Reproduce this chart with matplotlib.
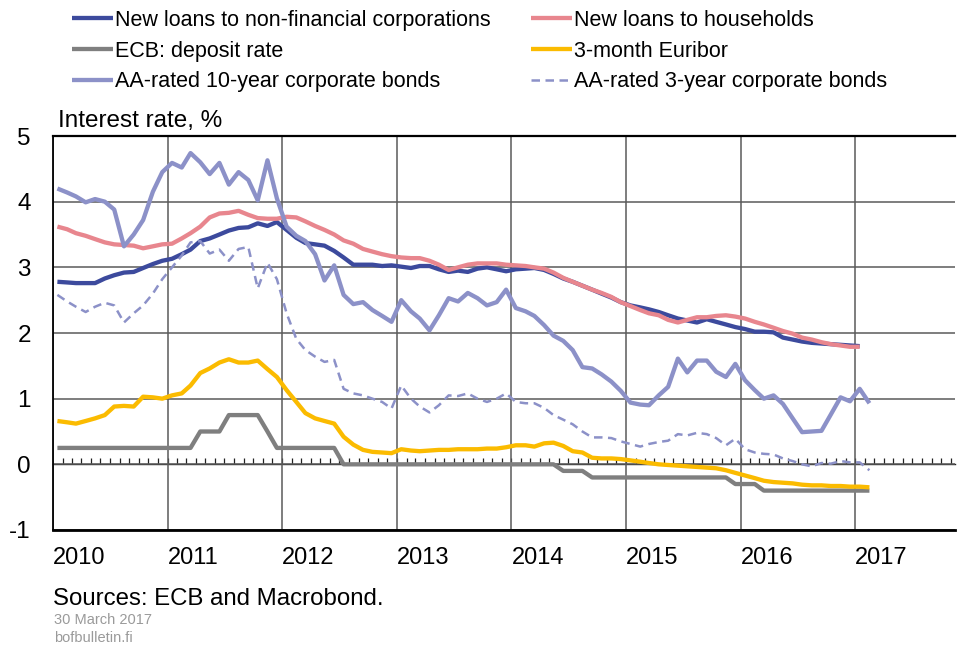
import numpy as np
import pandas as pd
import matplotlib
matplotlib.use("Agg")
import matplotlib.pyplot as plt

plt.rcParams['font.family'] = ['Liberation Sans', 'DejaVu Sans']

# ---------------- data (monthly, starting Jan 2010) ----------------
nfc_loans = [2.78, 2.77, 2.76, 2.76, 2.76, 2.83, 2.88, 2.92, 2.93, 2.99, 3.05, 3.10,
             3.13, 3.20, 3.27, 3.40, 3.44, 3.50, 3.56, 3.60, 3.61, 3.67, 3.63, 3.69,
             3.57, 3.45, 3.37, 3.35, 3.33, 3.25, 3.15, 3.04, 3.04, 3.04, 3.02, 3.03,
             3.01, 2.99, 3.02, 3.02, 2.97, 2.93, 2.95, 2.93, 2.98, 3.00, 2.97, 2.94,
             2.97, 2.98, 2.99, 2.96, 2.90, 2.83, 2.78, 2.72, 2.66, 2.60, 2.54, 2.47,
             2.42, 2.39, 2.36, 2.32, 2.27, 2.22, 2.19, 2.16, 2.21, 2.17, 2.13, 2.09,
             2.06, 2.02, 2.02, 2.01, 1.93, 1.90, 1.87, 1.85, 1.84, 1.83, 1.82, 1.81,
             1.80]
household_loans = [3.62, 3.58, 3.52, 3.48, 3.43, 3.38, 3.35, 3.34, 3.33, 3.29, 3.32, 3.35,
                   3.36, 3.44, 3.52, 3.62, 3.76, 3.82, 3.83, 3.86, 3.80, 3.75, 3.74, 3.74,
                   3.77, 3.76, 3.70, 3.63, 3.57, 3.50, 3.41, 3.36, 3.28, 3.24, 3.20, 3.17,
                   3.15, 3.14, 3.14, 3.10, 3.04, 2.96, 3.00, 3.04, 3.06, 3.06, 3.06, 3.04,
                   3.03, 3.02, 3.00, 2.98, 2.92, 2.84, 2.78, 2.72, 2.66, 2.61, 2.55, 2.47,
                   2.41, 2.35, 2.30, 2.27, 2.20, 2.16, 2.20, 2.24, 2.24, 2.26, 2.27, 2.25,
                   2.22, 2.17, 2.13, 2.08, 2.03, 1.99, 1.93, 1.90, 1.86, 1.83, 1.81, 1.79,
                   1.79]
ecb_deposit = [0.25] * 15 + [0.50] * 3 + [0.75] * 4 + [0.50] + [0.25] * 7 + \
              [0.00] * 23 + [-0.10] * 3 + [-0.20] * 15 + [-0.30] * 3 + [-0.40] * 12
euribor_3m = [0.66, 0.64, 0.62, 0.66, 0.70, 0.75, 0.88, 0.89, 0.88, 1.03, 1.02, 1.00,
              1.05, 1.08, 1.20, 1.39, 1.46, 1.55, 1.60, 1.55, 1.55, 1.58, 1.45, 1.33,
              1.13, 0.95, 0.78, 0.70, 0.66, 0.62, 0.42, 0.30, 0.22, 0.19, 0.18, 0.17,
              0.23, 0.21, 0.20, 0.21, 0.22, 0.22, 0.23, 0.23, 0.23, 0.24, 0.24, 0.26,
              0.29, 0.29, 0.27, 0.32, 0.33, 0.28, 0.20, 0.18, 0.10, 0.09, 0.09, 0.08,
              0.06, 0.04, 0.02, 0.00, -0.01, -0.02, -0.03, -0.04, -0.05, -0.06, -0.09, -0.13,
              -0.17, -0.21, -0.25, -0.27, -0.28, -0.29, -0.31, -0.32, -0.32, -0.33, -0.33, -0.34,
              -0.34, -0.35]
bonds_10y = [4.20, 4.14, 4.08, 3.99, 4.04, 4.00, 3.88, 3.32, 3.50, 3.72, 4.15, 4.45,
             4.59, 4.52, 4.74, 4.60, 4.42, 4.59, 4.26, 4.45, 4.33, 4.02, 4.63, 4.05,
             3.62, 3.48, 3.40, 3.20, 2.80, 3.03, 2.58, 2.44, 2.47, 2.35, 2.26, 2.17,
             2.50, 2.33, 2.22, 2.04, 2.27, 2.53, 2.48, 2.61, 2.53, 2.42, 2.47, 2.66,
             2.38, 2.33, 2.26, 2.12, 1.96, 1.88, 1.74, 1.48, 1.46, 1.37, 1.26, 1.12,
             0.94, 0.91, 0.90, 1.05, 1.18, 1.61, 1.40, 1.58, 1.58, 1.41, 1.33, 1.53,
             1.28, 1.13, 1.00, 1.05, 0.92, 0.70, 0.49, 0.50, 0.51, 0.76, 1.02, 0.96,
             1.15, 0.93]
bonds_3y = [2.58, 2.48, 2.40, 2.32, 2.40, 2.46, 2.42, 2.16, 2.30, 2.42, 2.60, 2.82,
            3.00, 3.18, 3.38, 3.40, 3.21, 3.27, 3.10, 3.28, 3.31, 2.68, 3.07, 2.82,
            2.30, 1.91, 1.74, 1.64, 1.56, 1.59, 1.15, 1.08, 1.05, 1.00, 0.95, 0.85,
            1.20, 1.00, 0.88, 0.79, 0.90, 1.05, 1.04, 1.08, 1.00, 0.95, 1.00, 1.08,
            0.95, 0.93, 0.93, 0.86, 0.75, 0.68, 0.61, 0.50, 0.41, 0.41, 0.40, 0.35,
            0.31, 0.27, 0.31, 0.34, 0.36, 0.46, 0.44, 0.48, 0.46, 0.40, 0.29, 0.39,
            0.23, 0.18, 0.16, 0.15, 0.09, 0.05, 0.00, -0.03, 0.02, 0.01, 0.05, 0.03,
            0.03, -0.09]

year_labels = ['2010', '2011', '2012', '2013', '2014', '2015', '2016', '2017']
y_ticks = [5, 4, 3, 2, 1, 0, -1]

series = [
    ("New loans to non-financial corporations", nfc_loans, '#3c4a9d', '-', 3.1),
    ("New loans to households", household_loans, '#e8868e', '-', 3.1),
    ("ECB: deposit rate", ecb_deposit, '#7f7f7f', '-', 3.1),
    ("3-month Euribor", euribor_3m, '#fbbb00', '-', 3.1),
    ("AA-rated 10-year corporate bonds", bonds_10y, '#8c91c8', '-', 3.1),
    ("AA-rated 3-year corporate bonds", bonds_3y, '#8c91c8', (0, (3.4, 2.2)), 1.8),
]


def to_year(ts):
    return ts.year + (ts.dayofyear - 1) / (366 if ts.is_leap_year else 365)


start = pd.Timestamp('2010-01-01')

W, H = 958, 645
fig = plt.figure(figsize=(W / 100, H / 100), dpi=100)
ax = fig.add_axes([53 / W, 1 - 530 / H, (955 - 53) / W, (530 - 136) / H])

handles = []
for name, vals, col, ls, lw in series:
    months = pd.date_range(start, periods=len(vals), freq='MS') + pd.Timedelta(days=14)
    x = np.array([to_year(m) for m in months])
    ln, = ax.plot(x, vals, color=col, ls=ls, lw=lw, label=name,
                  solid_capstyle='butt', solid_joinstyle='round')
    handles.append(ln)

ax.set_xlim(2010.0, 2017.87)
ax.set_ylim(-1, 5)

# year ticks
year_pos = [int(y) for y in year_labels]
ax.set_xticks(year_pos)
ax.set_xticklabels(year_labels, ha='left', fontsize=17)
ax.tick_params(axis='x', length=0, pad=12)
ax.set_yticks(y_ticks)
ax.set_yticklabels([str(v) for v in y_ticks], fontsize=17.5)
ax.tick_params(axis='y', length=0, pad=16)
ax.grid(True, color='#5a5a5a', lw=1.1)
ax.set_axisbelow(True)

for side in ['left', 'top', 'bottom']:
    ax.spines[side].set_color('black')
ax.spines['bottom'].set_linewidth(2.0)
ax.spines['top'].set_linewidth(1.6)
ax.spines['left'].set_linewidth(1.3)
ax.spines['right'].set_visible(False)

# zero line with monthly ticks
sec = ax.secondary_xaxis(1 / 6)
month_ticks = [to_year(m) for m in pd.date_range('2010-02-01', '2017-11-01', freq='MS')]
sec.set_xticks(month_ticks)
sec.set_xticklabels([])
sec.tick_params(direction='in', length=4, width=0.9, color='#222222')
sec.spines['bottom'].set_color('#222222')
sec.spines['bottom'].set_linewidth(1.0)

# y label
fig.text(58 / W, 1 - 121 / H, "Interest rate, %", fontsize=17.5, va='center', ha='left')

# legend
leg_kw = dict(frameon=False, fontsize=15.5, handlelength=1.9, handletextpad=0.1,
              labelspacing=0.45, borderpad=0, borderaxespad=0, loc='upper left')
fig.legend(handles=[handles[0], handles[2], handles[4]],
           bbox_to_anchor=(72 / W, 1 - 10 / H), **leg_kw)
fig.legend(handles=[handles[1], handles[3], handles[5]],
           bbox_to_anchor=(531 / W, 1 - 10 / H), **leg_kw)

# sources
fig.text(53 / W, 1 - 599 / H, "Sources: ECB and Macrobond.", fontsize=17.3,
         va='center', ha='left')
fig.text(54 / W, 1 - 620 / H, "30 March 2017", fontsize=10.5, color='#9a9a9a',
         va='center', ha='left')
fig.text(54 / W, 1 - 638 / H, "bofbulletin.fi", fontsize=10.5, color='#9a9a9a',
         va='center', ha='left')

fig.savefig('out.png', dpi=100)
